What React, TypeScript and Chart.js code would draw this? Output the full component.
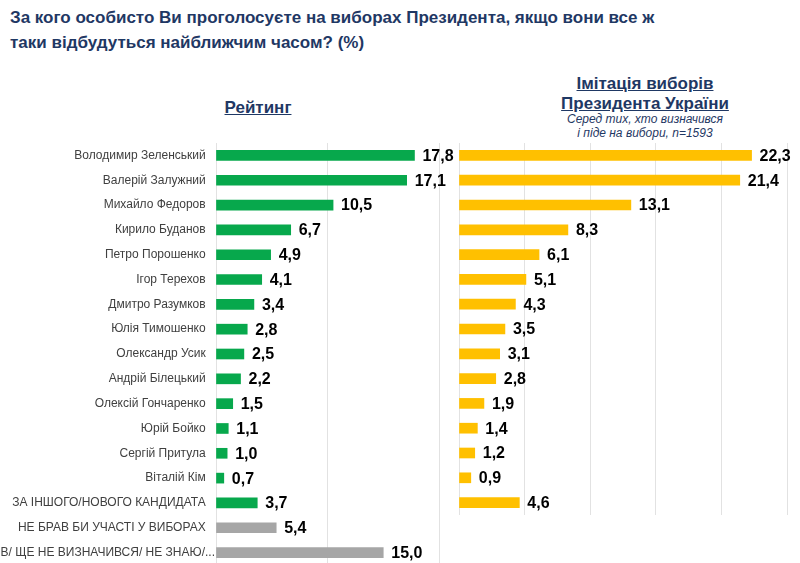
import { useEffect, useRef } from "react";
import { Chart, registerables } from "chart.js";

Chart.register(...registerables);
Chart.defaults.font.family = '"Liberation Sans", Arial, sans-serif';

const ratingLabels = [
  "Володимир Зеленський",
  "Валерій Залужний",
  "Михайло Федоров",
  "Кирило Буданов",
  "Петро Порошенко",
  "Ігор Терехов",
  "Дмитро Разумков",
  "Юлія Тимошенко",
  "Олександр Усик",
  "Андрій Білецький",
  "Олексій Гончаренко",
  "Юрій Бойко",
  "Сергій Притула",
  "Віталій Кім",
  "ЗА ІНШОГО/НОВОГО КАНДИДАТА",
  "НЕ БРАВ БИ УЧАСТІ У ВИБОРАХ",
  "ЗВ/ ЩЕ НЕ ВИЗНАЧИВСЯ/ НЕ ЗНАЮ/...",
];
const ratingValues = [17.8, 17.1, 10.5, 6.7, 4.9, 4.1, 3.4, 2.8, 2.5, 2.2, 1.5, 1.1, 1.0, 0.7, 3.7, 5.4, 15.0];
const electionValues = [22.3, 21.4, 13.1, 8.3, 6.1, 5.1, 4.3, 3.5, 3.1, 2.8, 1.9, 1.4, 1.2, 0.9, 4.6];
const ratingTicks = [0, 20, 10];
const electionTicks = [0, 25, 5];

const GREEN = "#07A84C";
const YELLOW = "#FFC000";
const GREY = "#A6A6A6";
const NAVY = "#1F3864";
const FONT = '"Liberation Sans", Arial, sans-serif';

// draws "17,8"-style numbers just past the end of each bar
const valueLabels = {
  id: "valueLabels",
  afterDatasetsDraw(chart: Chart) {
    const ctx = chart.ctx;
    const values = chart.data.datasets[0].data as number[];
    ctx.save();
    ctx.font = `bold 16px ${FONT}`;
    ctx.fillStyle = "#000";
    ctx.textAlign = "left";
    ctx.textBaseline = "middle";
    chart.getDatasetMeta(0).data.forEach((bar: any, i) => {
      ctx.fillText(values[i].toFixed(1).replace(".", ","), bar.x + 8, bar.y + 1);
    });
    ctx.restore();
  },
};

type PanelProps = {
  labels: string[];
  values: number[];
  colors: string[];
  ticks: number[];
  showLabels: boolean;
  padLeft: number;
  padRight: number;
};

function BarPanel({ labels, values, colors, ticks, showLabels, padLeft, padRight }: PanelProps) {
  const chartRef = useRef<HTMLCanvasElement>(null);
  const chartInstance = useRef<Chart | null>(null);

  useEffect(() => {
    if (!chartRef.current) return;
    const ctx = chartRef.current.getContext("2d");
    if (!ctx) return;
    if (chartInstance.current) chartInstance.current.destroy();

    chartInstance.current = new Chart(ctx, {
      type: "bar",
      data: {
        labels,
        datasets: [
          {
            data: values,
            backgroundColor: colors,
            barThickness: 10,
          },
        ],
      },
      options: {
        indexAxis: "y",
        animation: false,
        responsive: true,
        maintainAspectRatio: false,
        layout: { padding: { left: padLeft, right: padRight, top: 0, bottom: 0 } },
        plugins: {
          legend: { display: false },
          tooltip: { enabled: false },
        },
        scales: {
          x: {
            min: ticks[0],
            max: ticks[1],
            ticks: { display: false, stepSize: ticks[2] },
            grid: { color: "#E2E2E2", drawTicks: false },
            border: { display: false },
          },
          y: {
            display: showLabels,
            afterFit: (axis: any) => {
              // fixed label column, no extra space above/below the rows
              axis.width = showLabels ? 216 : 0;
              axis.paddingTop = 0;
              axis.paddingBottom = 0;
            },
            ticks: {
              autoSkip: false,
              padding: 1,
              color: "#404040",
              font: { size: 12 },
              // the truncated label ("...") runs right up to the bar, the others keep a gap
              callback: function (this: any, value: any) {
                const label = this.getLabelForValue(value) as string;
                return label.endsWith("...") ? label : label + "\u2002\u2008";
              },
            },
            grid: { display: false, drawTicks: false },
            border: { display: false },
          },
        },
      },
      plugins: [valueLabels],
    });

    return () => {
      if (chartInstance.current) {
        chartInstance.current.destroy();
        chartInstance.current = null;
      }
    };
  }, []);

  return <canvas ref={chartRef}></canvas>;
}

export default function App() {
  const candidateCount = electionValues.length;
  const ratingColors = ratingValues.map((_, i) => (i < candidateCount ? GREEN : GREY));
  const electionColors = electionValues.map(() => YELLOW);

  const heading = { position: "absolute" as const, color: NAVY, fontFamily: FONT, fontWeight: "bold" as const };

  return (
    <div
      style={{
        position: "absolute",
        left: 0,
        top: 0,
        width: 800,
        height: 563,
        overflow: "hidden",
        background: "#fff",
        fontFamily: FONT,
      }}
    >
      <div style={{ ...heading, left: 10, top: 5, fontSize: 17, lineHeight: "25px" }}>
        За кого особисто Ви проголосуєте на виборах Президента, якщо вони все ж
        <br />
        таки відбудуться найближчим часом? (%)
      </div>
      <div style={{ ...heading, left: 208, width: 100, top: 98, fontSize: 17, textAlign: "center", textDecoration: "underline" }}>
        Рейтинг
      </div>
      <div
        style={{
          ...heading,
          left: 545,
          width: 200,
          top: 74,
          fontSize: 17,
          lineHeight: "20px",
          textAlign: "center",
          textDecoration: "underline",
        }}
      >
        Імітація виборів
        <br />
        Президента України
      </div>
      <div
        style={{
          position: "absolute",
          left: 545,
          width: 200,
          top: 112,
          fontSize: 12,
          lineHeight: "14px",
          fontStyle: "italic",
          color: NAVY,
          textAlign: "center",
        }}
      >
        Серед тих, хто визначився
        <br />
        і піде на вибори, n=1593
      </div>

      <div style={{ position: "absolute", left: 0, top: 143, width: 470, height: 422 }}>
        <BarPanel
          labels={ratingLabels}
          values={ratingValues}
          colors={ratingColors}
          ticks={ratingTicks}
          showLabels={true}
          padLeft={0}
          padRight={31}
        />
      </div>
      <div style={{ position: "absolute", left: 440, top: 143, width: 360, height: 372 }}>
        <BarPanel
          labels={ratingLabels.slice(0, candidateCount)}
          values={electionValues}
          colors={electionColors}
          ticks={electionTicks}
          showLabels={false}
          padLeft={19}
          padRight={13}
        />
      </div>
    </div>
  );
}
